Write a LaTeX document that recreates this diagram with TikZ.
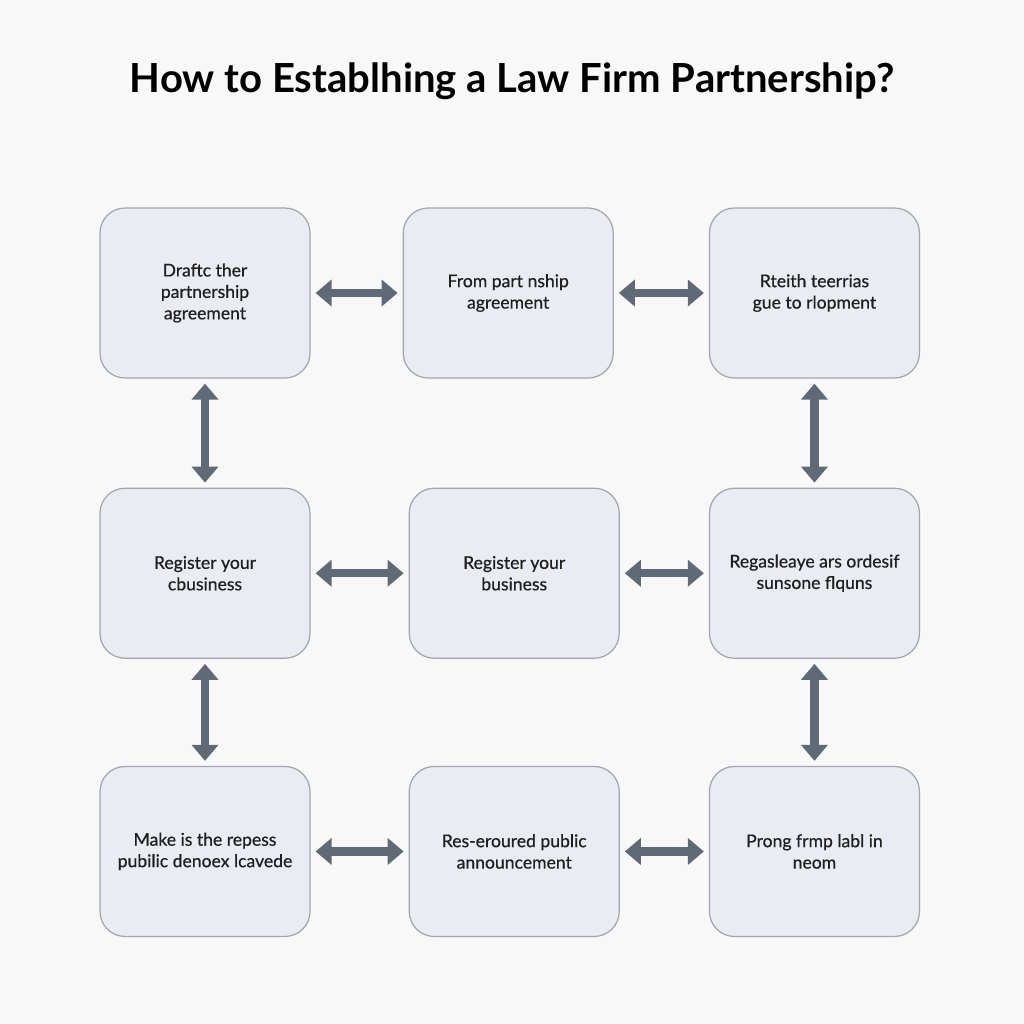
\documentclass[tikz,border=0pt]{standalone}
\usepackage{fontspec}
\setmainfont{Lato}
\newfontfamily\boxfont{Lato}[FakeBold=0.6]
\usepackage{tikz}
\usetikzlibrary{arrows.meta,positioning,calc}
\usepackage{xcolor}
\definecolor{bgcol}{HTML}{F8F8F9}
\definecolor{boxfill}{HTML}{E9ECF2}
\definecolor{boxline}{HTML}{A2A6AD}
\definecolor{arrcol}{HTML}{5F6A76}
\tikzset{
  block/.style={draw=boxline, line width=0.7pt, rounded corners=0.5cm, fill=boxfill,
    minimum width=4.2cm, minimum height=3.4cm, align=center, font=\boxfont\fontsize{10}{12.2}\selectfont, text=black!88},
  arr/.style={draw=arrcol, line width=0.17cm, {Triangle[length=0.32cm,width=0.52cm]}-{Triangle[length=0.32cm,width=0.52cm]},
    shorten <=0.1cm, shorten >=0.1cm},
}
\begin{document}
\begin{tikzpicture}[node distance=2.18cm and 1.84cm]
\fill[bgcol] (0,0) rectangle (20.48,-20.48);
\useasboundingbox (0,0) rectangle (20.48,-20.48);
\node[font=\bfseries\fontsize{22.8}{26}\selectfont] (title) at (10.24,-1.62) {How to Establhing a Law Firm Partnership?};
% top row
\node[block] (draft) at (4.1,-5.86) {Draftc ther\\partnership\\agreement};
\node[block, right=of draft] (form) {From part nship\\agreement};
\node[block, right=1.9cm of form] (terms) {Rteith teerrias\\gue to rlopment};
% middle row
\node[block, below=of draft] (reg1) {Register your\\cbusiness};
\node[block, right=1.96cm of reg1] (reg2) {Register your\\business};
\node[block, below=of terms] (regas) {Regasleaye ars ordesif\\sunsone flquns};
% bottom row
\node[block, below=2.14cm of reg1] (make) {Make is the repess\\pubilic denoex lcavede};
\node[block, right=1.96cm of make] (annc) {Res-eroured public\\announcement};
\node[block, below=2.14cm of regas] (prong) {Prong frmp labl in\\neom};
\draw[arr] (draft) -- (form);
\draw[arr] (form) -- (terms);
\draw[arr] (reg1) -- (reg2);
\draw[arr] (reg2) -- (regas);
\draw[arr] (make) -- (annc);
\draw[arr] (annc) -- (prong);
\draw[arr] (draft) -- (reg1);
\draw[arr] (reg1) -- (make);
\draw[arr] (terms) -- (regas);
\draw[arr] (regas) -- (prong);
\end{tikzpicture}
\end{document}
